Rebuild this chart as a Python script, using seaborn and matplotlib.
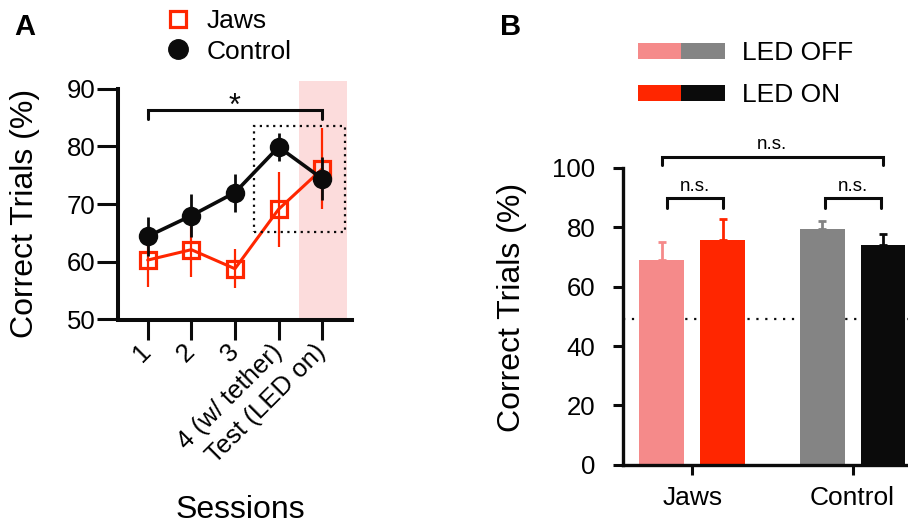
import matplotlib
matplotlib.use("Agg")
import matplotlib.pyplot as plt
from matplotlib.lines import Line2D
from matplotlib.patches import Patch, Rectangle
from matplotlib.legend_handler import HandlerTuple
import numpy as np
import pandas as pd
import seaborn as sns

# ---- data -------------------------------------------------------------
sessions = ["1", "2", "3", "4 (w/ tether)", "Test (LED on)"]
jaws_mean = [60.3, 62.1, 58.8, 69.1, 76.1]
jaws_sem = [4.7, 4.8, 3.4, 6.5, 7.0]
ctrl_mean = [64.4, 68.0, 72.0, 79.9, 74.4]
ctrl_sem = [3.4, 3.7, 3.3, 2.4, 3.7]

groups = ["Jaws", "Control"]
led_levels = ["LED OFF", "LED ON"]
led_off_mean = [68.9, 79.5]
led_off_sem = [6.3, 2.7]
led_on_mean = [75.7, 73.9]
led_on_sem = [7.2, 3.9]
chance_level = 49.2

# ---- style ------------------------------------------------------------
RED = "#FF2600"
PINK = "#F58A8A"
GREY = "#848484"
BLACK = "#0B0B0B"
BAND = "#FCDCDC"

sns.set_style("ticks")
plt.rcParams["font.family"] = ["Liberation Sans", "DejaVu Sans"]
plt.rcParams.update({
    "text.color": "black",
    "axes.labelcolor": "black",
    "xtick.color": "black",
    "ytick.color": "black",
    "xtick.labelcolor": "black",
    "ytick.labelcolor": "black",
})

W, H = 908, 530
fig = plt.figure(figsize=(W / 100, H / 100), dpi=100)


def px_axes(left, top, right, bottom):
    return fig.add_axes([left / W, 1 - bottom / H, (right - left) / W, (bottom - top) / H])


# ---- panel A: learning curve -----------------------------------------
axa = px_axes(118.3, 81, 352.3, 319.5)
axa.set_xlim(-0.674, 4.69)
axa.set_ylim(50, 91.33)

xs = np.arange(len(sessions))
axa.axvspan(3.46, 4.56, color=BAND, lw=0, zorder=0)

axa.errorbar(xs, jaws_mean, yerr=jaws_sem, fmt="none", ecolor=RED, elinewidth=1.6,
             capsize=0, zorder=2)
sns.lineplot(x=xs, y=jaws_mean, ax=axa, color=RED, lw=2.2, marker="s", markersize=11,
             markerfacecolor="none", markeredgecolor=RED, markeredgewidth=2.3, zorder=3)
axa.errorbar(xs, ctrl_mean, yerr=ctrl_sem, fmt="none", ecolor=BLACK, elinewidth=2.0,
             capsize=0, zorder=4)
sns.lineplot(x=xs, y=ctrl_mean, ax=axa, color=BLACK, lw=2.6, marker="o", markersize=14,
             markerfacecolor=BLACK, markeredgecolor=BLACK, markeredgewidth=0, zorder=5)

# significance bracket between session 1 and the test session
axa.plot([0, 0, 4, 4], [84.75, 86.3, 86.3, 84.75], color=BLACK, lw=2.2,
         solid_joinstyle="miter", clip_on=False, zorder=6)
axa.text(2, 85.4, "*", ha="center", va="baseline", fontsize=22, color=BLACK)

# dotted box around the last two sessions
axa.add_patch(Rectangle((2.43, 65.2), 2.1, 18.4, fill=False, ec=BLACK, lw=1.6,
                        ls=(0, (1, 2)), clip_on=False, zorder=6))

for s in ["top", "right"]:
    axa.spines[s].set_visible(False)
for s in ["left", "bottom"]:
    axa.spines[s].set_linewidth(2.9)
    axa.spines[s].set_color(BLACK)
axa.spines["left"].set_bounds(50, 90)
axa.set_yticks([50, 60, 70, 80, 90])
axa.set_xticks(xs)
axa.set_xticklabels(sessions, rotation=45, ha="right", va="center",
                    rotation_mode="anchor", fontsize=18.5)
axa.tick_params(axis="y", length=15, width=2.2, pad=1.5, labelsize=18.5, color=BLACK)
axa.tick_params(axis="x", length=14.5, width=2.2, pad=6, color=BLACK)
axa.set_xlabel("")
axa.set_ylabel("")
axa.grid(False)

fig.text(25 / W, 1 - 213 / H, "Correct Trials (%)", rotation=90, ha="center",
         va="center", fontsize=23)
fig.text(240 / W, 1 - 510 / H, "Sessions", ha="center", va="center", fontsize=23)
fig.text(14 / W, 1 - 27 / H, "A", ha="left", va="center", fontsize=21, weight="bold")

handles_a = [
    Line2D([], [], ls="none", marker="s", markersize=11, markerfacecolor="none",
           markeredgecolor=RED, markeredgewidth=2.3),
    Line2D([], [], ls="none", marker="o", markersize=14, color=BLACK),
]
fig.legend(handles_a, ["Jaws", "Control"], loc="upper left",
           bbox_to_anchor=(164.5 / W, 1 - 9 / H), frameon=False, fontsize=19,
           handlelength=1.0, handletextpad=0.59, labelspacing=0.25, borderpad=0,
           borderaxespad=0)

# ---- panel B: LED off vs on ------------------------------------------
axb = px_axes(622.7, 168, 908, 464.8)

bar_df = pd.DataFrame({
    "group": groups * 2,
    "led": [led_levels[0]] * 2 + [led_levels[1]] * 2,
    "value": led_off_mean + led_on_mean,
    "sem": led_off_sem + led_on_sem,
})

axb.axhline(chance_level, color=BLACK, lw=1.6, ls=(0, (1, 3)), zorder=0)
sns.barplot(data=bar_df, x="group", y="value", hue="led", order=groups,
            hue_order=led_levels, width=0.76, gap=0.263, errorbar=None,
            legend=False, ax=axb, zorder=2, linewidth=0)

bar_colors = {led_levels[0]: [PINK, GREY], led_levels[1]: [RED, BLACK]}
bar_sems = {led_levels[0]: led_off_sem, led_levels[1]: led_on_sem}
for cont, level in zip(axb.containers, led_levels):
    for patch, col, err in zip(cont.patches, bar_colors[level], bar_sems[level]):
        patch.set_facecolor(col)
        patch.set_edgecolor(col)
        cx = patch.get_x() + patch.get_width() / 2
        top = patch.get_height()
        axb.errorbar([cx], [top], yerr=[[0], [err]], fmt="none", ecolor=col,
                     elinewidth=2.0, capsize=3.2, capthick=2.0, zorder=1)

axb.set_xlim(-0.434, 1.346)
axb.set_ylim(0, 100)


def bracket(ax, x0, x1, y_low, y_top, label, text_y):
    ax.plot([x0, x0, x1, x1], [y_low, y_top, y_top, y_low], color=BLACK, lw=2.2,
            solid_joinstyle="miter", clip_on=False, zorder=6)
    ax.text((x0 + x1) / 2, text_y, label, ha="center", va="baseline", fontsize=13.5)


bracket(axb, -0.19, 1.19, 101.0, 103.7, "n.s.", 106.5)
bracket(axb, -0.158, 0.19, 86.6, 90.0, "n.s.", 92.3)
bracket(axb, 0.827, 1.175, 86.6, 90.0, "n.s.", 92.3)

for s in ["top", "right"]:
    axb.spines[s].set_visible(False)
for s in ["left", "bottom"]:
    axb.spines[s].set_linewidth(2.4)
    axb.spines[s].set_color(BLACK)
axb.spines["left"].set_bounds(0, 100)
axb.set_yticks([0, 20, 40, 60, 80, 100])
axb.tick_params(axis="y", length=7.5, width=2.2, pad=12, labelsize=18.5, color=BLACK)
axb.tick_params(axis="x", length=7, width=2.2, pad=8, labelsize=19, color=BLACK)
axb.set_xlabel("")
axb.set_ylabel("")
axb.grid(False)

fig.text(512 / W, 1 - 307 / H, "Correct Trials (%)", rotation=90, ha="center",
         va="center", fontsize=23)
fig.text(500 / W, 1 - 27 / H, "B", ha="left", va="center", fontsize=21, weight="bold")

handles_b = [
    (Patch(facecolor=PINK, lw=0), Patch(facecolor=GREY, lw=0)),
    (Patch(facecolor=RED, lw=0), Patch(facecolor=BLACK, lw=0)),
]
fig.legend(handles_b, led_levels, loc="upper left",
           bbox_to_anchor=(637.9 / W, 1 - 41 / H), frameon=False, fontsize=19,
           handlelength=3.3, handleheight=0.57, handletextpad=0.64, labelspacing=0.7,
           borderpad=0, borderaxespad=0,
           handler_map={tuple: HandlerTuple(ndivide=None, pad=0)})

fig.savefig("out.png", dpi=100)
